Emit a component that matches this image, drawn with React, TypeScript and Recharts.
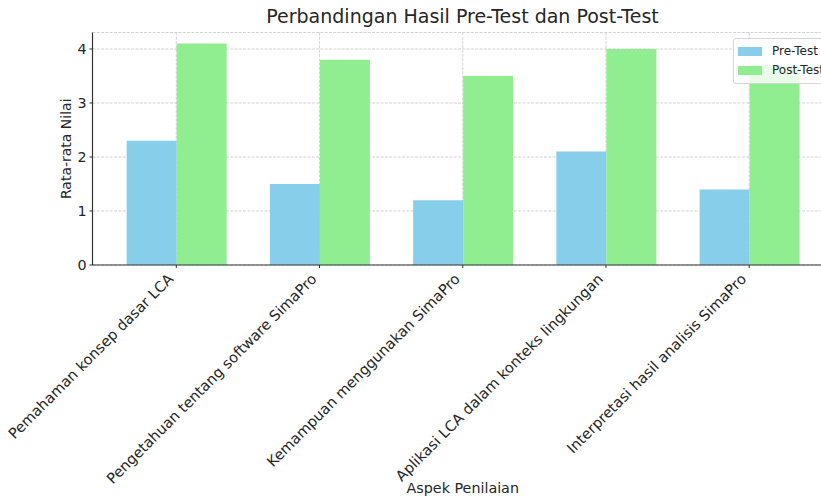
import { BarChart, Bar, XAxis, YAxis, CartesianGrid, Legend } from 'recharts'

// ── Data ─────────────────────────────────────────────────────────────

const categories = [
  'Pemahaman konsep dasar LCA',
  'Pengetahuan tentang software SimaPro',
  'Kemampuan menggunakan SimaPro',
  'Aplikasi LCA dalam konteks lingkungan',
  'Interpretasi hasil analisis SimaPro',
]
const preTest = [2.3, 1.5, 1.2, 2.1, 1.4]
const postTest = [4.1, 3.8, 3.5, 4.0, 3.7]
const yTicks = [0, 1, 2, 3, 4]
const xTicks = categories.map((_, i) => i)

const SERIES = [
  { key: 'pre', label: 'Pre-Test', color: '#87CEEB' },
  { key: 'post', label: 'Post-Test', color: '#90EE90' },
]

const data = categories.map((name, i) => ({
  idx: i,
  name,
  pre: preTest[i],
  post: postTest[i],
}))

const FONT = '"DejaVu Sans", sans-serif'
const TEXT = '#262626'
const AXIS = '#333333'

// ── Custom pieces ────────────────────────────────────────────────────

function XTick({ x, y, payload }: any) {
  const label = categories[payload.value] ?? ''
  const tx = x - 2
  const ty = y + 10
  return (
    <text
      x={tx}
      y={ty}
      transform={`rotate(-45, ${tx}, ${ty})`}
      textAnchor="end"
      fontSize={14.6}
      fontFamily={FONT}
      fill={TEXT}
    >
      {label}
    </text>
  )
}

function YLabel({ viewBox }: any) {
  const { y, height } = viewBox
  const lx = 71
  const ly = y + height / 2
  return (
    <text
      x={lx}
      y={ly}
      transform={`rotate(-90, ${lx}, ${ly})`}
      textAnchor="middle"
      fontSize={14}
      fontFamily={FONT}
      fill={TEXT}
    >
      Rata-rata Nilai
    </text>
  )
}

function LegendBox() {
  return (
    <div style={{
      background: 'rgba(255,255,255,0.8)',
      border: '1px solid rgba(204,204,204,0.8)',
      borderRadius: '3px',
      padding: '3px 4px',
      fontFamily: FONT,
      fontSize: '12px',
      color: TEXT,
      lineHeight: '19px',
    }}>
      {SERIES.map((s) => (
        <div key={s.key} style={{ display: 'flex', alignItems: 'center', whiteSpace: 'nowrap' }}>
          <span style={{ display: 'inline-block', width: 24, height: 8.4, background: s.color, marginRight: 10 }} />
          {s.label}
        </div>
      ))}
    </div>
  )
}

// ── Chart ────────────────────────────────────────────────────────────

export default function App() {
  return (
    <div style={{
      position: 'absolute',
      left: 0,
      top: 0,
      width: 821,
      height: 497,
      overflow: 'hidden',
      background: '#fff',
    }}>
      <div style={{
        position: 'absolute',
        left: 0,
        width: 925,
        top: 5,
        textAlign: 'center',
        fontFamily: FONT,
        fontSize: '19px',
        color: TEXT,
        whiteSpace: 'nowrap',
      }}>
        Perbandingan Hasil Pre-Test dan Post-Test
      </div>

      <BarChart
        width={833}
        height={497}
        data={data}
        margin={{ top: 32.5, right: 0, bottom: 0, left: 0 }}
        barGap={0}
        barSize={50}
        style={{ position: 'absolute', left: 0, top: 0 }}
      >
        <CartesianGrid
          stroke="#b0b0b0"
          strokeOpacity={0.7}
          strokeWidth={0.8}
          strokeDasharray="3 1.3"
        />
        <XAxis
          type="number"
          dataKey="idx"
          domain={[-0.585, 4.585]}
          ticks={xTicks}
          interval={0}
          height={232}
          tickSize={3}
          tickMargin={2}
          stroke={AXIS}
          axisLine={{ stroke: AXIS, strokeWidth: 1.2 }}
          tickLine={{ stroke: AXIS }}
          tick={<XTick />}
          label={{
            value: 'Aspek Penilaian',
            position: 'insideBottom',
            offset: 4,
            fill: TEXT,
            fontSize: 14.3,
            fontFamily: FONT,
          }}
        />
        <YAxis
          type="number"
          domain={[0, 4.305]}
          ticks={yTicks}
          width={92.5}
          tickSize={3}
          tickMargin={3}
          stroke={AXIS}
          axisLine={{ stroke: AXIS, strokeWidth: 1.2 }}
          tickLine={{ stroke: AXIS }}
          tick={{ fill: TEXT, fontSize: 14.3, fontFamily: FONT }}
          label={<YLabel />}
        />
        <Legend
          layout="vertical"
          align="center"
          verticalAlign="middle"
          content={<LegendBox />}
          wrapperStyle={{ position: 'absolute', top: 38, left: 733, width: 110 }}
        />
        {SERIES.map((s) => (
          <Bar
            key={s.key}
            dataKey={s.key}
            name={s.label}
            fill={s.color}
            isAnimationActive={false}
          />
        ))}
      </BarChart>
    </div>
  )
}
